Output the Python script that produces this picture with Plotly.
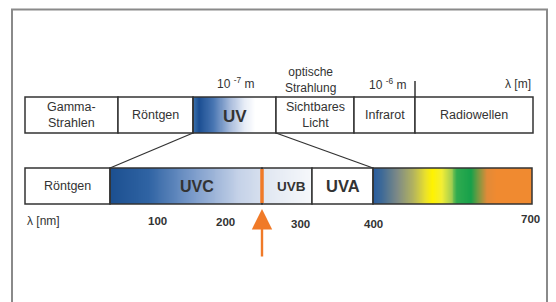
import numpy as np
import plotly.graph_objects as go

# ---------------- data (schematic spectrum) ----------------
top_bands = ["Gamma-<br>Strahlen", "Röntgen", "UV", "Sichtbares<br>Licht", "Infrarot", "Radiowellen"]
top_band_widths = [93, 75, 83, 78, 61, 118]          # schematic band widths
bottom_bands = ["Röntgen", "UVC", "UVB", "UVA", ""]
bottom_band_widths = [85, 152, 50, 61, 159]           # schematic band widths
nm_ticks = ["100", "200", "300", "400", "700"]
top_scale_labels = ["10 <sup>-7</sup> m", "optische<br>Strahlung", "10 <sup>-6</sup> m", "λ [m]"]
marked_band = "254 nm"

# ---------------- layout constants ----------------
W, H = 556, 302
PAGE_OFF = 8          # default body margin of the html page
X0 = 25
TOP_Y, BOT_Y, BAR_H = 115, 186, 36
nm_tick_pos = [157, 225, 300, 373, 530]
nm_tick_y = [221, 222, 224, 224, 219]
mark_x = 262
INK = "#333333"
FONT = "Liberation Sans, Arial, sans-serif"

top_edges = np.concatenate([[X0], X0 + np.cumsum(top_band_widths)])
bot_edges = np.concatenate([[X0], X0 + np.cumsum(bottom_band_widths)])

fig = go.Figure()

def gradient(x0, x1, yc, stops, n=160):
    xe = np.linspace(x0, x1, n + 1)
    z = [list(np.linspace(0, 1, n))]
    fig.add_trace(go.Heatmap(x=xe, y=[yc - BAR_H / 2, yc + BAR_H / 2], z=z,
                             colorscale=stops, showscale=False, hoverinfo="skip",
                             zmin=0, zmax=1))

# UV cell in top bar
gradient(top_edges[2], top_edges[3], TOP_Y,
         [[0, "#3a70ad"], [0.07, "#1b4e92"], [0.25, "#4a77b3"], [0.45, "#a9bcdc"],
          [0.62, "#e6ecf6"], [0.75, "#ffffff"], [1, "#ffffff"]])
# UVC cell in bottom bar
gradient(bot_edges[1], bot_edges[2], BOT_Y,
         [[0, "#1c4f90"], [0.25, "#2f63a3"], [0.55, "#7c9ccb"], [0.85, "#c5d2e8"], [1, "#d6dfee"]])
# UVB cell
gradient(bot_edges[2], bot_edges[3], BOT_Y,
         [[0, "#dfe6f1"], [1, "#f6f8fb"]])
# visible spectrum
gradient(bot_edges[4], bot_edges[5], BOT_Y,
         [[0, "#2a5d9f"], [0.05, "#3d6997"], [0.15, "#7d8a86"], [0.25, "#b3b35e"],
          [0.33, "#ebe22a"], [0.37, "#fff200"], [0.43, "#f2ee35"], [0.49, "#a6cf50"],
          [0.53, "#2fab4f"], [0.62, "#17a04a"], [0.66, "#6c9a42"], [0.72, "#e18a38"],
          [0.78, "#f08a30"], [1, "#f08a30"]])

top_fill = ["white", "white", "rgba(0,0,0,0)", "white", "white", "white"]
bot_fill = ["white", "rgba(0,0,0,0)", "rgba(0,0,0,0)", "white", "rgba(0,0,0,0)"]

fig.add_trace(go.Bar(orientation="h", y=[TOP_Y] * len(top_bands), base=top_edges[:-1],
                     x=top_band_widths, width=BAR_H,
                     marker=dict(color=top_fill, line=dict(color=INK, width=1.5)),
                     hoverinfo="skip"))
fig.add_trace(go.Bar(orientation="h", y=[BOT_Y] * len(bottom_bands), base=bot_edges[:-1],
                     x=bottom_band_widths, width=BAR_H,
                     marker=dict(color=bot_fill, line=dict(color=INK, width=1.5)),
                     hoverinfo="skip"))

# zoom lines from UV cell to bottom bar
for xa, xb in [(top_edges[2], bot_edges[1]), (top_edges[3], bot_edges[4])]:
    fig.add_trace(go.Scatter(x=[xa, xb], y=[TOP_Y + BAR_H / 2, BOT_Y - BAR_H / 2],
                             mode="lines", line=dict(color=INK, width=1.3), hoverinfo="skip"))
# tick at 10^-6 m
fig.add_trace(go.Scatter(x=[top_edges[5], top_edges[5]], y=[81, TOP_Y - BAR_H / 2],
                         mode="lines", line=dict(color=INK, width=1.5), hoverinfo="skip"))
# orange marker line (254 nm)
fig.add_trace(go.Scatter(x=[mark_x, mark_x], y=[BOT_Y - BAR_H / 2 + 1, BOT_Y + BAR_H / 2 - 1],
                         mode="lines", line=dict(color="#f07a28", width=3.5), hoverinfo="skip",
                         name=marked_band))

ann = []
def txt(x, y, s, size=13, bold=False, xanchor="center"):
    if bold:
        s = "<b>" + s + "</b>"
    ann.append(dict(x=x, y=y, text=s, showarrow=False, xanchor=xanchor, yanchor="middle",
                    font=dict(size=size, color=INK, family=FONT)))

# top bar labels
for i, lab in enumerate(top_bands):
    cx = (top_edges[i] + top_edges[i + 1]) / 2
    if lab == "UV":
        txt(cx, TOP_Y + 1, lab, size=17, bold=True)
    else:
        txt(cx, TOP_Y, lab, size=12.5)
# bottom bar labels
bot_sizes = [12.5, 16, 13.5, 16.5, 12]
for i, lab in enumerate(bottom_bands):
    if not lab:
        continue
    cx = (bot_edges[i] + bot_edges[i + 1]) / 2
    if lab == "UVC":
        cx = 197
    if lab == "UVB":
        cx = 291
    txt(cx, BOT_Y, lab, size=bot_sizes[i], bold=(lab != "Röntgen"))

# scale labels above the top bar
txt(235, 83, top_scale_labels[0], size=12)
txt(310, 80, top_scale_labels[1], size=12)
txt(387, 84, top_scale_labels[2], size=12)
txt(533, 84, top_scale_labels[3], size=12, xanchor="right")

# nm axis labels
txt(X0, 221, "λ [nm]", size=12, xanchor="left")
for t, px, py in zip(nm_ticks, nm_tick_pos, nm_tick_y):
    txt(px, py, t, size=11.5, bold=True)

# arrow
ann.append(dict(x=mark_x, y=209, ax=mark_x, ay=258, xref="x", yref="y", axref="x", ayref="y",
                text="", showarrow=True, arrowhead=2, arrowsize=1.7, arrowwidth=2.4,
                arrowcolor="#f07a28"))

# frame (top edge kept just inside the drawable page area)
shapes = [dict(type="path", path=f"M 12 {H} L 12 9.5 L 547 9.5 L 547 {H}",
               line=dict(color="#8a8a8a", width=2), xref="x", yref="y")]

fig.update_layout(
    width=W - PAGE_OFF, height=H - PAGE_OFF, margin=dict(l=0, r=0, t=0, b=0),
    paper_bgcolor="white", plot_bgcolor="white", showlegend=False,
    barmode="overlay",
    xaxis=dict(range=[PAGE_OFF, W], visible=False, fixedrange=True),
    yaxis=dict(range=[H, PAGE_OFF], visible=False, fixedrange=True),
    annotations=ann, shapes=shapes,
)

fig.write_html("out.html", config={"displayModeBar": False})
